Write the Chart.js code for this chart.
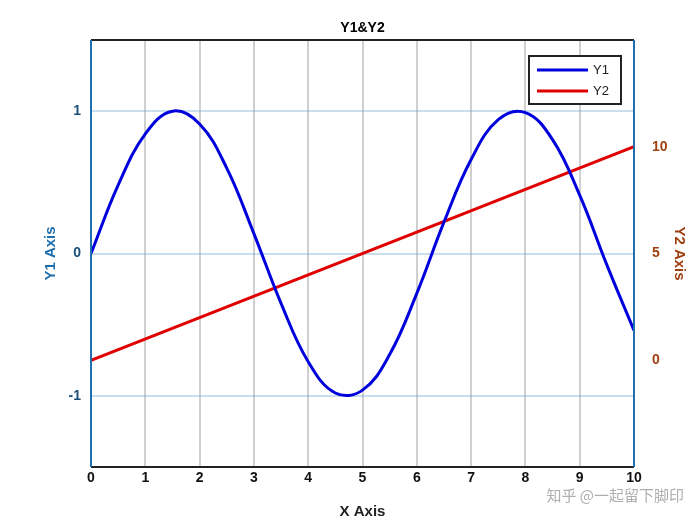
<!DOCTYPE html>
<html><head><meta charset="utf-8">
<script src="https://cdn.jsdelivr.net/npm/chart.js@4"></script>
<style>body{margin:0;background:#fff}#w{width:700px;height:525px}</style>
</head><body><div id="w"><canvas id="c"></canvas></div>
<script>
const xVals=[0,0.5,1,1.5,2,2.5,3,3.5,4,4.5,5,5.5,6,6.5,7,7.5,8,8.5,9,9.5,10];
const y1Vals=[0,0.48,0.84,1.0,0.91,0.60,0.14,-0.35,-0.76,-0.98,-0.96,-0.71,-0.28,0.22,0.66,0.94,0.99,0.80,0.41,-0.08,-0.54];
const y2X=[0,10];
const y2Vals=[0,10];
const y1Ticks=[-1,0,1];
const y2Ticks=[0,5,10];
const F='Arial, "Liberation Sans", sans-serif';
const overlay={id:'ov',afterDraw(ch){
 const c=ch.ctx,a=ch.chartArea;c.save();
 c.font='bold 14px '+F;c.fillStyle='#000';c.textAlign='center';c.fillText('Y1&Y2',(a.left+a.right)/2,32);
 c.lineWidth=2;c.strokeStyle='#222';
 c.beginPath();c.moveTo(a.left,a.top);c.lineTo(a.right,a.top);c.moveTo(a.left,a.bottom);c.lineTo(a.right,a.bottom);c.stroke();
 c.strokeStyle='#1f6fae';c.beginPath();c.moveTo(a.left,a.top);c.lineTo(a.left,a.bottom);c.moveTo(a.right,a.top);c.lineTo(a.right,a.bottom);c.stroke();
 const lx=529,ly=56,lw=92,lh=48;c.fillStyle='#fff';c.fillRect(lx,ly,lw,lh);c.strokeStyle='#222';c.lineWidth=2;c.strokeRect(lx,ly,lw,lh);
 c.font='13px '+F;c.textAlign='left';c.textBaseline='middle';
 [['Y1','#0000dd',70],['Y2','#e00000',91]].forEach(([t,col,y])=>{c.strokeStyle=col;c.lineWidth=3;c.beginPath();c.moveTo(537,y);c.lineTo(588,y);c.stroke();c.fillStyle='#222';c.fillText(t,593,y);});
 c.font='15px "Noto Sans CJK SC"';c.fillStyle='rgba(120,120,120,0.6)';c.textAlign='right';c.fillText('知乎 @一起留下脚印',684,495);
 c.restore();}};
new Chart(document.getElementById('c'),{
 type:'line',
 data:{datasets:[
  {label:'Y1',data:xVals.map((x,i)=>({x,y:y1Vals[i]})),borderColor:'#0000dd',borderWidth:3,pointRadius:0,tension:0.4,yAxisID:'y'},
  {label:'Y2',data:y2X.map((x,i)=>({x,y:y2Vals[i]})),borderColor:'#e00000',borderWidth:3,pointRadius:0,yAxisID:'y2'}]},
 options:{responsive:true,maintainAspectRatio:false,animation:false,
  layout:{padding:{top:40,left:42,right:12,bottom:0}},
  plugins:{legend:{display:false},tooltip:{enabled:false}},
  scales:{
   x:{type:'linear',min:0,max:10,afterFit(s){s.height=58;},
    ticks:{stepSize:1,color:'#111',font:{family:F,size:14,weight:'bold'}},
    grid:{color:'rgba(120,120,120,0.35)',lineWidth:2,drawTicks:false},border:{display:false},
    title:{display:true,text:'X Axis',color:'#222',font:{family:F,size:15,weight:'bold'},padding:{top:4}}},
   y:{min:-1.5,max:1.5,position:'left',afterFit(s){s.width=49;},
    afterBuildTicks(s){s.ticks=y1Ticks.map(v=>({value:v}));},
    ticks:{color:'#1a4f7a',font:{family:F,size:14,weight:'bold'},padding:10},
    grid:{color:'rgba(100,160,210,0.35)',lineWidth:2,drawTicks:false},border:{display:false},
    title:{display:true,text:'Y1 Axis',color:'#1f6fae',font:{family:F,size:15,weight:'bold'},padding:0}},
   y2:{min:-5,max:15,position:'right',afterFit(s){s.width=54;},
    afterBuildTicks(s){s.ticks=y2Ticks.map(v=>({value:v}));},
    ticks:{color:'#a04010',font:{family:F,size:14,weight:'bold'},padding:10},
    grid:{display:false},border:{display:false},
    title:{display:true,text:'Y2 Axis',color:'#a04010',font:{family:F,size:15,weight:'bold'},padding:0}}
  }},
 plugins:[overlay]});
</script></body></html>
